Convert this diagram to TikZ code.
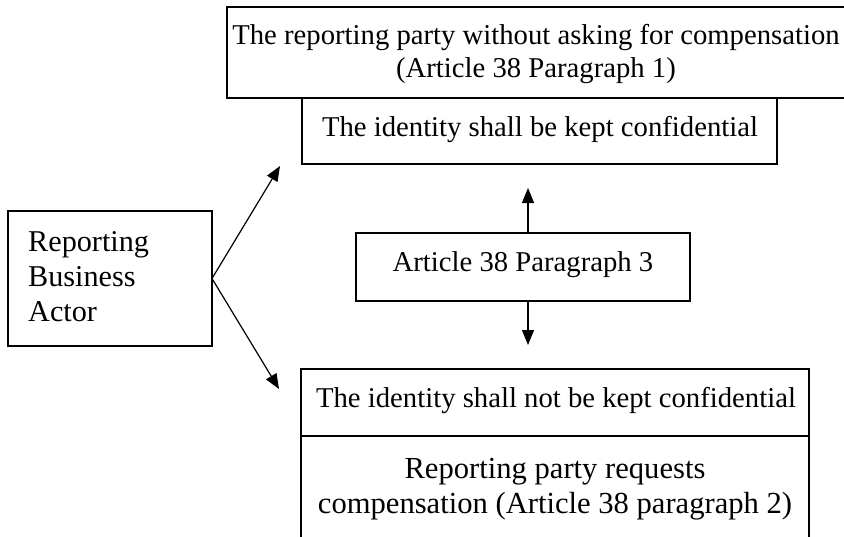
\documentclass[tikz,border=0pt]{standalone}
\usepackage{fontspec}
\setmainfont{Liberation Serif}
\usetikzlibrary{arrows.meta}
\begin{document}
\begin{tikzpicture}[x=1pt,y=-1pt,
  box/.style={draw, line width=1.2pt, inner sep=0pt, outer sep=0pt},
  txt/.style={anchor=base, inner sep=0pt, font=\fontsize{28.7}{33}\selectfont},
  lgtxt/.style={anchor=base, inner sep=0pt, font=\fontsize{30.6}{35}\selectfont},
  bigtxt/.style={anchor=base west, inner sep=0pt, font=\fontsize{30.2}{35}\selectfont},
  arr/.style={line width=1.2pt, -{Triangle[length=15pt,width=12pt]}}]
\useasboundingbox[fill=white] (0,0) rectangle (844,536);
\begin{scope}
\clip (0,0) rectangle (844,536);
% boxes
\node[box, minimum width=627pt, minimum height=91pt] (top) at (540.5,52.5) {};
\node[box, minimum width=475pt, minimum height=66pt] (keep) at (539.5,131) {};
\node[box, minimum width=334pt, minimum height=68pt] (mid) at (523,267) {};
\node[box, minimum width=204pt, minimum height=135pt] (actor) at (110,278.5) {};
\node[box, minimum width=508pt, minimum height=67pt] (notkeep) at (555,402.5) {};
\node[box, minimum width=508pt, minimum height=110pt] (req) at (555,491) {};
% texts
\node[txt] (t1) at (536,44) {The reporting party without asking for compensation};
\node[txt] (t2) at (536,77) {(Article 38 Paragraph 1)};
\node[txt] (t3) at (540,136) {The identity shall be kept confidential};
\node[txt] (t4) at (523,271) {Article 38 Paragraph 3};
\node[bigtxt] (a1) at (28,251) {Reporting};
\node[bigtxt] (a2) at (28,286) {Business};
\node[bigtxt] (a3) at (28,321) {Actor};
\node[txt] (t5) at (556,407) {The identity shall not be kept confidential};
\node[lgtxt] (t6) at (555,478) {Reporting party requests};
\node[lgtxt] (t7) at (555,513) {compensation (Article 38 paragraph 2)};
% connectors
\coordinate (tipA) at (280,166);
\coordinate (tipB) at (279,389);
\coordinate (tipUp) at (528,188);
\coordinate (tipDown) at (528,345);
\draw[arr] (actor.east) -- (tipA);
\draw[arr] (actor.east) -- (tipB);
\draw[arr] (mid.north -| tipUp) -- (tipUp);
\draw[arr] (mid.south -| tipDown) -- (tipDown);
\end{scope}
\end{tikzpicture}
\end{document}
